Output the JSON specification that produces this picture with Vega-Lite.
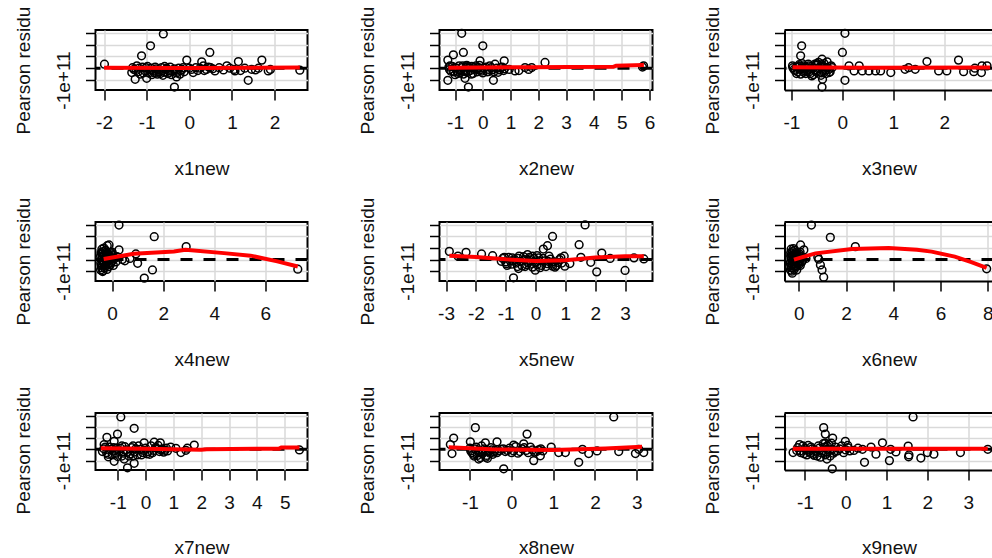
{
  "$schema": "https://vega.github.io/schema/vega-lite/v6.json",
  "background": "white",
  "padding": {"left": 12.5, "top": 5, "right": 0, "bottom": 0},
  "datasets": {
    "pts": [
      {"p":1,"x":-1.99,"y":0.34e11},{"p":1,"x":-0.61,"y":2.91e11},{"p":1,"x":-0.91,"y":1.91e11},{"p":1,"x":-1.12,"y":1.06e11},{"p":1,"x":0.48,"y":1.34e11},{"p":1,"x":-1.27,"y":-0.94e11},{"p":1,"x":-1.0,"y":-0.86e11},{"p":1,"x":-0.35,"y":-1.6e11},{"p":1,"x":-0.3,"y":-0.74e11},{"p":1,"x":-1.35,"y":-0.37e11},{"p":1,"x":-1.23,"y":0.2e11},{"p":1,"x":-0.06,"y":0.69e11},{"p":1,"x":0.29,"y":0.54e11},{"p":1,"x":0.33,"y":0.2e11},{"p":1,"x":0.09,"y":-0.37e11},{"p":1,"x":0.88,"y":0.2e11},{"p":1,"x":1.15,"y":0.57e11},{"p":1,"x":1.38,"y":-1.03e11},{"p":1,"x":1.7,"y":0.69e11},{"p":1,"x":1.46,"y":-0.09e11},{"p":1,"x":1.85,"y":-0.23e11},{"p":1,"x":2.59,"y":-0.17e11},{"p":1,"x":1.07,"y":-0.23e11},{"p":1,"x":0.6,"y":-0.23e11},
      {"p":1,"x":-1.3,"y":-0.1e11},{"p":1,"x":-1.2,"y":-0.3e11},{"p":1,"x":-1.1,"y":0.1e11},{"p":1,"x":-1.05,"y":-0.2e11},{"p":1,"x":-0.95,"y":-0.4e11},{"p":1,"x":-0.9,"y":0.0},{"p":1,"x":-0.85,"y":-0.25e11},{"p":1,"x":-0.8,"y":0.1e11},{"p":1,"x":-0.75,"y":-0.5e11},{"p":1,"x":-0.7,"y":-0.15e11},{"p":1,"x":-0.65,"y":0.05e11},{"p":1,"x":-0.6,"y":-0.35e11},{"p":1,"x":-0.55,"y":-0.1e11},{"p":1,"x":-0.5,"y":-0.45e11},{"p":1,"x":-0.45,"y":0.1e11},{"p":1,"x":-0.4,"y":-0.25e11},{"p":1,"x":-0.35,"y":-0.05e11},{"p":1,"x":-0.3,"y":-0.4e11},{"p":1,"x":-0.25,"y":0.0},{"p":1,"x":-0.2,"y":-0.2e11},{"p":1,"x":-0.15,"y":0.05e11},{"p":1,"x":-1.15,"y":-0.5e11},{"p":1,"x":-0.98,"y":0.15e11},{"p":1,"x":-0.72,"y":-0.3e11},{"p":1,"x":-0.58,"y":0.15e11},{"p":1,"x":-0.48,"y":-0.2e11},{"p":1,"x":-0.12,"y":-0.3e11},{"p":1,"x":-0.88,"y":-0.55e11},{"p":1,"x":-0.62,"y":-0.6e11},{"p":1,"x":-0.42,"y":-0.55e11},
      {"p":1,"x":-1.33,"y":0.05e11},{"p":1,"x":-1.25,"y":-0.2e11},{"p":1,"x":-1.18,"y":0.0},{"p":1,"x":-1.08,"y":-0.4e11},{"p":1,"x":-1.02,"y":0.05e11},{"p":1,"x":-0.93,"y":-0.15e11},{"p":1,"x":-0.82,"y":-0.4e11},{"p":1,"x":-0.78,"y":-0.05e11},{"p":1,"x":-0.68,"y":-0.45e11},{"p":1,"x":-0.63,"y":-0.2e11},{"p":1,"x":-0.53,"y":0.0},{"p":1,"x":-0.46,"y":-0.35e11},{"p":1,"x":-0.38,"y":-0.15e11},{"p":1,"x":-0.28,"y":-0.25e11},{"p":1,"x":-0.22,"y":-0.5e11},{"p":1,"x":-0.17,"y":-0.1e11},{"p":1,"x":0.0,"y":0.0},{"p":1,"x":0.25,"y":0.0},{"p":1,"x":0.35,"y":-0.2e11},{"p":1,"x":0.5,"y":0.05e11},
      {"p":1,"x":0.05,"y":-0.1e11},{"p":1,"x":0.15,"y":0.05e11},{"p":1,"x":0.2,"y":-0.2e11},{"p":1,"x":0.4,"y":-0.1e11},{"p":1,"x":0.45,"y":0.1e11},{"p":1,"x":0.55,"y":-0.05e11},{"p":1,"x":0.7,"y":0.05e11},{"p":1,"x":0.8,"y":-0.15e11},{"p":1,"x":0.95,"y":0.0},{"p":1,"x":1.05,"y":-0.1e11},{"p":1,"x":1.2,"y":-0.2e11},{"p":1,"x":1.3,"y":0.0},{"p":1,"x":1.55,"y":-0.15e11},{"p":1,"x":1.62,"y":0.0},{"p":1,"x":1.9,"y":-0.1e11},

      {"p":2,"x":-0.76,"y":2.97e11},{"p":2,"x":0.0,"y":1.91e11},{"p":2,"x":-0.7,"y":1.34e11},{"p":2,"x":-1.06,"y":1.14e11},{"p":2,"x":-1.26,"y":0.69e11},{"p":2,"x":-1.26,"y":-1.03e11},{"p":2,"x":-0.64,"y":-0.86e11},{"p":2,"x":-0.52,"y":-1.6e11},{"p":2,"x":0.38,"y":-1.03e11},{"p":2,"x":2.24,"y":0.49e11},{"p":2,"x":-0.1,"y":0.63e11},{"p":2,"x":0.77,"y":0.63e11},{"p":2,"x":1.16,"y":-0.23e11},{"p":2,"x":1.52,"y":0.06e11},{"p":2,"x":1.76,"y":0.06e11},{"p":2,"x":5.79,"y":0.2e11},{"p":2,"x":5.75,"y":0.1e11},{"p":2,"x":-1.18,"y":0.2e11},{"p":2,"x":0.44,"y":0.34e11},{"p":2,"x":0.2,"y":-0.29e11},{"p":2,"x":1.3,"y":-0.2e11},{"p":2,"x":0.95,"y":-0.1e11},{"p":2,"x":1.65,"y":-0.1e11},
      {"p":2,"x":-1.2,"y":-0.1e11},{"p":2,"x":-1.1,"y":0.15e11},{"p":2,"x":-1.05,"y":-0.3e11},{"p":2,"x":-0.95,"y":0.0},{"p":2,"x":-0.9,"y":-0.45e11},{"p":2,"x":-0.85,"y":0.2e11},{"p":2,"x":-0.8,"y":-0.2e11},{"p":2,"x":-0.75,"y":0.05e11},{"p":2,"x":-0.7,"y":-0.5e11},{"p":2,"x":-0.65,"y":-0.1e11},{"p":2,"x":-0.6,"y":0.1e11},{"p":2,"x":-0.55,"y":-0.35e11},{"p":2,"x":-0.5,"y":0.0},{"p":2,"x":-0.45,"y":-0.2e11},{"p":2,"x":-0.4,"y":0.15e11},{"p":2,"x":-0.35,"y":-0.45e11},{"p":2,"x":-0.3,"y":-0.05e11},{"p":2,"x":-0.25,"y":0.2e11},{"p":2,"x":-0.2,"y":-0.3e11},{"p":2,"x":-0.15,"y":0.05e11},{"p":2,"x":-0.1,"y":-0.15e11},{"p":2,"x":0.0,"y":-0.4e11},{"p":2,"x":0.1,"y":0.1e11},{"p":2,"x":0.2,"y":-0.1e11},{"p":2,"x":0.3,"y":0.05e11},{"p":2,"x":0.4,"y":-0.3e11},{"p":2,"x":0.5,"y":0.0},{"p":2,"x":0.6,"y":-0.15e11},{"p":2,"x":0.7,"y":0.1e11},{"p":2,"x":0.78,"y":-0.05e11},{"p":2,"x":-1.0,"y":-0.55e11},{"p":2,"x":-0.58,"y":0.25e11},
      {"p":2,"x":-1.22,"y":0.1e11},{"p":2,"x":-1.15,"y":-0.25e11},{"p":2,"x":-1.0,"y":0.05e11},{"p":2,"x":-0.92,"y":-0.25e11},{"p":2,"x":-0.82,"y":-0.4e11},{"p":2,"x":-0.72,"y":0.2e11},{"p":2,"x":-0.62,"y":-0.3e11},{"p":2,"x":-0.52,"y":0.15e11},{"p":2,"x":-0.42,"y":-0.5e11},{"p":2,"x":-0.32,"y":0.05e11},{"p":2,"x":-0.22,"y":-0.1e11},{"p":2,"x":-0.12,"y":0.25e11},{"p":2,"x":-0.05,"y":-0.25e11},{"p":2,"x":0.05,"y":0.0},{"p":2,"x":0.15,"y":-0.3e11},{"p":2,"x":0.25,"y":0.2e11},{"p":2,"x":0.35,"y":-0.15e11},{"p":2,"x":0.55,"y":-0.35e11},{"p":2,"x":0.65,"y":0.05e11},{"p":2,"x":0.75,"y":-0.2e11},

      {"p":3,"x":0.05,"y":2.97e11},{"p":3,"x":0.0,"y":1.34e11},{"p":3,"x":-0.8,"y":1.91e11},{"p":3,"x":-0.82,"y":1.06e11},{"p":3,"x":-0.4,"y":0.77e11},{"p":3,"x":-0.39,"y":-0.94e11},{"p":3,"x":-0.4,"y":-1.6e11},{"p":3,"x":0.05,"y":-1.03e11},{"p":3,"x":0.95,"y":-0.37e11},{"p":3,"x":1.66,"y":0.57e11},{"p":3,"x":2.28,"y":0.69e11},{"p":3,"x":1.23,"y":-0.09e11},{"p":3,"x":1.43,"y":-0.09e11},{"p":3,"x":1.89,"y":-0.23e11},{"p":3,"x":2.05,"y":-0.23e11},{"p":3,"x":2.38,"y":-0.29e11},{"p":3,"x":2.58,"y":-0.29e11},{"p":3,"x":2.74,"y":0.2e11},{"p":3,"x":2.84,"y":0.2e11},{"p":3,"x":2.73,"y":-0.37e11},{"p":3,"x":0.13,"y":0.2e11},{"p":3,"x":0.33,"y":0.2e11},{"p":3,"x":0.39,"y":-0.23e11},{"p":3,"x":0.52,"y":-0.23e11},{"p":3,"x":0.65,"y":-0.23e11},{"p":3,"x":0.75,"y":-0.23e11},{"p":3,"x":0.23,"y":-0.23e11},{"p":3,"x":-0.98,"y":0.2e11},{"p":3,"x":-0.26,"y":-0.37e11},{"p":3,"x":-0.2,"y":0.06e11},{"p":3,"x":1.3,"y":0.05e11},{"p":3,"x":2.6,"y":0.0},
      {"p":3,"x":-0.95,"y":-0.1e11},{"p":3,"x":-0.9,"y":0.1e11},{"p":3,"x":-0.88,"y":-0.3e11},{"p":3,"x":-0.85,"y":0.3e11},{"p":3,"x":-0.82,"y":-0.5e11},{"p":3,"x":-0.8,"y":0.0},{"p":3,"x":-0.77,"y":0.2e11},{"p":3,"x":-0.75,"y":-0.2e11},{"p":3,"x":-0.72,"y":-0.45e11},{"p":3,"x":-0.7,"y":0.05e11},{"p":3,"x":-0.67,"y":0.35e11},{"p":3,"x":-0.65,"y":-0.3e11},{"p":3,"x":-0.62,"y":-0.05e11},{"p":3,"x":-0.6,"y":0.15e11},{"p":3,"x":-0.57,"y":-0.55e11},{"p":3,"x":-0.55,"y":-0.15e11},{"p":3,"x":-0.52,"y":0.25e11},{"p":3,"x":-0.5,"y":-0.35e11},{"p":3,"x":-0.47,"y":0.5e11},{"p":3,"x":-0.45,"y":0.0},{"p":3,"x":-0.42,"y":-0.6e11},{"p":3,"x":-0.4,"y":0.3e11},{"p":3,"x":-0.38,"y":-0.2e11},{"p":3,"x":-0.35,"y":0.1e11},{"p":3,"x":-0.32,"y":-0.45e11},{"p":3,"x":-0.3,"y":0.55e11},{"p":3,"x":-0.27,"y":-0.1e11},{"p":3,"x":-0.22,"y":0.2e11},{"p":3,"x":-0.6,"y":-0.65e11},{"p":3,"x":-0.5,"y":0.4e11},
      {"p":3,"x":-0.97,"y":0.05e11},{"p":3,"x":-0.93,"y":-0.2e11},{"p":3,"x":-0.9,"y":-0.45e11},{"p":3,"x":-0.86,"y":0.15e11},{"p":3,"x":-0.83,"y":-0.1e11},{"p":3,"x":-0.79,"y":0.4e11},{"p":3,"x":-0.76,"y":-0.35e11},{"p":3,"x":-0.73,"y":0.1e11},{"p":3,"x":-0.69,"y":-0.25e11},{"p":3,"x":-0.66,"y":0.2e11},{"p":3,"x":-0.63,"y":-0.45e11},{"p":3,"x":-0.58,"y":0.0},{"p":3,"x":-0.54,"y":0.35e11},{"p":3,"x":-0.49,"y":-0.2e11},{"p":3,"x":-0.44,"y":0.15e11},{"p":3,"x":-0.41,"y":-0.4e11},{"p":3,"x":-0.36,"y":0.4e11},{"p":3,"x":-0.33,"y":-0.15e11},{"p":3,"x":-0.29,"y":0.05e11},{"p":3,"x":-0.24,"y":-0.3e11},

      {"p":4,"x":0.27,"y":2.99e11},{"p":4,"x":1.65,"y":1.98e11},{"p":4,"x":-0.12,"y":1.27e11},{"p":4,"x":0.27,"y":0.84e11},{"p":4,"x":0.93,"y":0.49e11},{"p":4,"x":1.0,"y":-0.32e11},{"p":4,"x":1.58,"y":-0.89e11},{"p":4,"x":1.26,"y":-1.6e11},{"p":4,"x":2.9,"y":1.12e11},{"p":4,"x":7.27,"y":-0.83e11},{"p":4,"x":-0.37,"y":-1.03e11},{"p":4,"x":0.4,"y":0.0},{"p":4,"x":0.5,"y":-0.1e11},{"p":4,"x":0.7,"y":0.1e11},{"p":4,"x":-0.05,"y":0.6e11},
      {"p":4,"x":-0.45,"y":-0.9e11},{"p":4,"x":-0.42,"y":-0.5e11},{"p":4,"x":-0.4,"y":0.0},{"p":4,"x":-0.38,"y":0.5e11},{"p":4,"x":-0.35,"y":-0.2e11},{"p":4,"x":-0.33,"y":0.3e11},{"p":4,"x":-0.3,"y":-0.7e11},{"p":4,"x":-0.28,"y":0.1e11},{"p":4,"x":-0.25,"y":0.8e11},{"p":4,"x":-0.23,"y":-0.4e11},{"p":4,"x":-0.2,"y":0.2e11},{"p":4,"x":-0.18,"y":-0.1e11},{"p":4,"x":-0.15,"y":0.45e11},{"p":4,"x":-0.13,"y":-0.6e11},{"p":4,"x":-0.1,"y":0.0},{"p":4,"x":-0.08,"y":0.3e11},{"p":4,"x":-0.05,"y":-0.3e11},{"p":4,"x":-0.03,"y":0.15e11},{"p":4,"x":0.0,"y":-0.15e11},{"p":4,"x":0.03,"y":0.35e11},{"p":4,"x":0.05,"y":-0.5e11},{"p":4,"x":-0.4,"y":0.9e11},{"p":4,"x":-0.35,"y":-0.95e11},{"p":4,"x":-0.2,"y":-0.85e11},{"p":4,"x":0.0,"y":0.65e11},{"p":4,"x":-0.45,"y":0.3e11},{"p":4,"x":0.1,"y":0.1e11},{"p":4,"x":0.15,"y":-0.2e11},{"p":4,"x":0.2,"y":0.25e11},
      {"p":4,"x":-0.44,"y":-0.3e11},{"p":4,"x":-0.43,"y":0.6e11},{"p":4,"x":-0.41,"y":-0.7e11},{"p":4,"x":-0.39,"y":0.2e11},{"p":4,"x":-0.37,"y":-0.45e11},{"p":4,"x":-0.36,"y":0.7e11},{"p":4,"x":-0.34,"y":-0.1e11},{"p":4,"x":-0.32,"y":1.0e11},{"p":4,"x":-0.31,"y":-0.35e11},{"p":4,"x":-0.29,"y":0.4e11},{"p":4,"x":-0.27,"y":-0.55e11},{"p":4,"x":-0.26,"y":0.05e11},{"p":4,"x":-0.24,"y":0.6e11},{"p":4,"x":-0.22,"y":-0.2e11},{"p":4,"x":-0.19,"y":1.2e11},{"p":4,"x":-0.17,"y":0.35e11},{"p":4,"x":-0.14,"y":-0.35e11},{"p":4,"x":-0.11,"y":0.2e11},{"p":4,"x":-0.07,"y":-0.45e11},{"p":4,"x":-0.02,"y":0.5e11},

      {"p":5,"x":1.66,"y":3.0e11},{"p":5,"x":0.57,"y":2.0e11},{"p":5,"x":1.46,"y":1.29e11},{"p":5,"x":0.4,"y":1.2e11},{"p":5,"x":0.26,"y":0.91e11},{"p":5,"x":-2.89,"y":0.71e11},{"p":5,"x":-2.33,"y":0.63e11},{"p":5,"x":-1.81,"y":0.49e11},{"p":5,"x":-1.44,"y":0.34e11},{"p":5,"x":-0.74,"y":-1.57e11},{"p":5,"x":-0.57,"y":-0.77e11},{"p":5,"x":-0.01,"y":-0.91e11},{"p":5,"x":0.96,"y":0.29e11},{"p":5,"x":0.98,"y":-0.57e11},{"p":5,"x":1.15,"y":-0.34e11},{"p":5,"x":1.52,"y":0.2e11},{"p":5,"x":1.85,"y":-0.23e11},{"p":5,"x":2.05,"y":-1.06e11},{"p":5,"x":2.22,"y":0.57e11},{"p":5,"x":3.0,"y":-0.94e11},{"p":5,"x":3.63,"y":0.06e11},{"p":5,"x":0.57,"y":-0.57e11},{"p":5,"x":-0.27,"y":0.43e11},{"p":5,"x":-0.1,"y":0.29e11},{"p":5,"x":-2.6,"y":0.3e11},{"p":5,"x":2.5,"y":0.1e11},{"p":5,"x":3.3,"y":0.15e11},
      {"p":5,"x":-1.1,"y":0.1e11},{"p":5,"x":-1.0,"y":-0.2e11},{"p":5,"x":-0.9,"y":0.2e11},{"p":5,"x":-0.8,"y":-0.4e11},{"p":5,"x":-0.7,"y":0.0},{"p":5,"x":-0.6,"y":-0.6e11},{"p":5,"x":-0.5,"y":-0.15e11},{"p":5,"x":-0.4,"y":0.25e11},{"p":5,"x":-0.3,"y":-0.45e11},{"p":5,"x":-0.2,"y":-0.05e11},{"p":5,"x":-0.1,"y":-0.65e11},{"p":5,"x":0.0,"y":-0.25e11},{"p":5,"x":0.1,"y":0.15e11},{"p":5,"x":0.2,"y":-0.5e11},{"p":5,"x":0.3,"y":-0.1e11},{"p":5,"x":0.4,"y":-0.35e11},{"p":5,"x":0.5,"y":0.05e11},{"p":5,"x":0.6,"y":-0.2e11},{"p":5,"x":0.7,"y":-0.5e11},{"p":5,"x":0.8,"y":0.0},{"p":5,"x":0.88,"y":-0.3e11},{"p":5,"x":-0.95,"y":-0.5e11},{"p":5,"x":-0.55,"y":0.3e11},{"p":5,"x":-0.25,"y":-0.3e11},{"p":5,"x":0.15,"y":-0.7e11},{"p":5,"x":0.45,"y":0.3e11},{"p":5,"x":-0.75,"y":-0.1e11},{"p":5,"x":0.05,"y":0.35e11},{"p":5,"x":0.65,"y":-0.65e11},{"p":5,"x":-0.35,"y":-0.6e11},
      {"p":5,"x":-1.15,"y":-0.15e11},{"p":5,"x":-1.05,"y":0.2e11},{"p":5,"x":-0.98,"y":-0.35e11},{"p":5,"x":-0.85,"y":-0.1e11},{"p":5,"x":-0.78,"y":0.15e11},{"p":5,"x":-0.65,"y":-0.3e11},{"p":5,"x":-0.58,"y":0.1e11},{"p":5,"x":-0.45,"y":-0.55e11},{"p":5,"x":-0.38,"y":0.0},{"p":5,"x":-0.15,"y":-0.4e11},{"p":5,"x":-0.05,"y":0.1e11},{"p":5,"x":0.05,"y":-0.45e11},{"p":5,"x":0.25,"y":0.1e11},{"p":5,"x":0.35,"y":-0.6e11},{"p":5,"x":0.55,"y":-0.4e11},{"p":5,"x":0.75,"y":-0.25e11},{"p":5,"x":0.85,"y":0.15e11},{"p":5,"x":-0.2,"y":0.2e11},{"p":5,"x":0.12,"y":-0.1e11},{"p":5,"x":0.42,"y":-0.15e11},

      {"p":6,"x":0.53,"y":2.99e11},{"p":6,"x":1.33,"y":1.92e11},{"p":6,"x":0.07,"y":1.27e11},{"p":6,"x":0.21,"y":0.84e11},{"p":6,"x":2.39,"y":1.12e11},{"p":6,"x":0.84,"y":0.03e11},{"p":6,"x":0.91,"y":-0.46e11},{"p":6,"x":0.98,"y":-0.89e11},{"p":6,"x":1.05,"y":-1.52e11},{"p":6,"x":7.95,"y":-0.8e11},{"p":6,"x":-0.28,"y":-1.18e11},{"p":6,"x":0.3,"y":0.1e11},{"p":6,"x":0.15,"y":-0.1e11},{"p":6,"x":0.8,"y":0.2e11},
      {"p":6,"x":-0.36,"y":-0.9e11},{"p":6,"x":-0.34,"y":-0.5e11},{"p":6,"x":-0.32,"y":0.0},{"p":6,"x":-0.3,"y":0.5e11},{"p":6,"x":-0.28,"y":-0.2e11},{"p":6,"x":-0.26,"y":0.3e11},{"p":6,"x":-0.24,"y":-0.7e11},{"p":6,"x":-0.22,"y":0.1e11},{"p":6,"x":-0.2,"y":0.8e11},{"p":6,"x":-0.18,"y":-0.4e11},{"p":6,"x":-0.16,"y":0.2e11},{"p":6,"x":-0.14,"y":-0.1e11},{"p":6,"x":-0.12,"y":0.45e11},{"p":6,"x":-0.1,"y":-0.6e11},{"p":6,"x":-0.08,"y":0.0},{"p":6,"x":-0.06,"y":0.3e11},{"p":6,"x":-0.04,"y":-0.3e11},{"p":6,"x":-0.02,"y":0.15e11},{"p":6,"x":0.0,"y":-0.15e11},{"p":6,"x":0.03,"y":0.35e11},{"p":6,"x":0.06,"y":-0.5e11},{"p":6,"x":-0.33,"y":0.9e11},{"p":6,"x":-0.3,"y":-1.0e11},{"p":6,"x":-0.2,"y":-0.85e11},{"p":6,"x":0.05,"y":0.65e11},{"p":6,"x":-0.35,"y":0.3e11},{"p":6,"x":0.1,"y":0.1e11},{"p":6,"x":0.12,"y":-0.2e11},
      {"p":6,"x":-0.37,"y":-0.3e11},{"p":6,"x":-0.35,"y":0.6e11},{"p":6,"x":-0.33,"y":-0.7e11},{"p":6,"x":-0.31,"y":0.2e11},{"p":6,"x":-0.29,"y":-0.45e11},{"p":6,"x":-0.27,"y":0.7e11},{"p":6,"x":-0.25,"y":-0.1e11},{"p":6,"x":-0.23,"y":0.95e11},{"p":6,"x":-0.21,"y":-0.35e11},{"p":6,"x":-0.19,"y":0.4e11},{"p":6,"x":-0.17,"y":-0.55e11},{"p":6,"x":-0.15,"y":0.05e11},{"p":6,"x":-0.13,"y":0.6e11},{"p":6,"x":-0.11,"y":-0.2e11},{"p":6,"x":-0.09,"y":-0.9e11},{"p":6,"x":-0.07,"y":0.35e11},{"p":6,"x":-0.05,"y":-0.35e11},{"p":6,"x":-0.03,"y":0.2e11},{"p":6,"x":0.0,"y":-0.45e11},{"p":6,"x":0.02,"y":0.5e11},

      {"p":7,"x":-0.89,"y":2.9e11},{"p":7,"x":-0.41,"y":1.88e11},{"p":7,"x":-1.39,"y":1.07e11},{"p":7,"x":-1.01,"y":1.36e11},{"p":7,"x":-1.13,"y":0.72e11},{"p":7,"x":-1.49,"y":0.43e11},{"p":7,"x":-1.34,"y":-0.67e11},{"p":7,"x":-1.13,"y":-1.07e11},{"p":7,"x":-0.65,"y":-1.65e11},{"p":7,"x":-0.77,"y":-0.87e11},{"p":7,"x":-0.41,"y":-1.25e11},{"p":7,"x":-0.05,"y":0.58e11},{"p":7,"x":0.31,"y":0.64e11},{"p":7,"x":0.53,"y":0.58e11},{"p":7,"x":1.75,"y":0.38e11},{"p":7,"x":1.27,"y":-0.29e11},{"p":7,"x":0.79,"y":-0.14e11},{"p":7,"x":5.53,"y":-0.06e11},{"p":7,"x":1.45,"y":-0.09e11},{"p":7,"x":1.09,"y":0.09e11},{"p":7,"x":1.5,"y":0.1e11},{"p":7,"x":0.9,"y":0.2e11},
      {"p":7,"x":-1.5,"y":0.05e11},{"p":7,"x":-1.4,"y":-0.3e11},{"p":7,"x":-1.3,"y":0.2e11},{"p":7,"x":-1.2,"y":-0.5e11},{"p":7,"x":-1.1,"y":-0.1e11},{"p":7,"x":-1.0,"y":-0.65e11},{"p":7,"x":-0.9,"y":0.1e11},{"p":7,"x":-0.8,"y":-0.35e11},{"p":7,"x":-0.7,"y":-0.05e11},{"p":7,"x":-0.6,"y":-0.6e11},{"p":7,"x":-0.5,"y":0.15e11},{"p":7,"x":-0.4,"y":-0.25e11},{"p":7,"x":-0.3,"y":-0.5e11},{"p":7,"x":-0.2,"y":0.0},{"p":7,"x":-0.1,"y":-0.3e11},{"p":7,"x":0.0,"y":0.1e11},{"p":7,"x":0.1,"y":-0.2e11},{"p":7,"x":0.2,"y":0.3e11},{"p":7,"x":0.3,"y":-0.1e11},{"p":7,"x":0.4,"y":0.1e11},{"p":7,"x":0.5,"y":-0.2e11},{"p":7,"x":0.6,"y":0.05e11},{"p":7,"x":0.7,"y":-0.1e11},{"p":7,"x":-0.95,"y":-0.2e11},{"p":7,"x":-0.55,"y":-0.4e11},{"p":7,"x":-0.25,"y":0.3e11},{"p":7,"x":0.15,"y":-0.45e11},{"p":7,"x":-1.25,"y":0.0},{"p":7,"x":-0.75,"y":0.25e11},{"p":7,"x":0.45,"y":0.35e11},
      {"p":7,"x":-1.55,"y":-0.2e11},{"p":7,"x":-1.45,"y":0.2e11},{"p":7,"x":-1.35,"y":-0.45e11},{"p":7,"x":-1.15,"y":0.15e11},{"p":7,"x":-1.05,"y":-0.35e11},{"p":7,"x":-0.85,"y":-0.6e11},{"p":7,"x":-0.65,"y":-0.25e11},{"p":7,"x":-0.45,"y":-0.6e11},{"p":7,"x":-0.35,"y":0.05e11},{"p":7,"x":-0.15,"y":-0.5e11},{"p":7,"x":-0.05,"y":-0.1e11},{"p":7,"x":0.05,"y":-0.4e11},{"p":7,"x":0.25,"y":-0.3e11},{"p":7,"x":0.35,"y":0.15e11},{"p":7,"x":0.55,"y":-0.05e11},{"p":7,"x":0.65,"y":-0.25e11},{"p":7,"x":0.75,"y":0.1e11},{"p":7,"x":-0.85,"y":0.3e11},{"p":7,"x":-0.45,"y":0.3e11},{"p":7,"x":-1.05,"y":0.1e11},

      {"p":8,"x":2.45,"y":2.9e11},{"p":8,"x":-0.87,"y":1.94e11},{"p":8,"x":-1.39,"y":1.01e11},{"p":8,"x":-1.47,"y":0.43e11},{"p":8,"x":-1.43,"y":-0.38e11},{"p":8,"x":-0.99,"y":0.67e11},{"p":8,"x":-0.63,"y":0.58e11},{"p":8,"x":-0.35,"y":0.67e11},{"p":8,"x":-0.19,"y":-1.74e11},{"p":8,"x":0.37,"y":1.36e11},{"p":8,"x":0.05,"y":0.38e11},{"p":8,"x":0.29,"y":0.49e11},{"p":8,"x":0.53,"y":-1.01e11},{"p":8,"x":0.69,"y":-0.58e11},{"p":8,"x":0.95,"y":0.2e11},{"p":8,"x":1.13,"y":-0.29e11},{"p":8,"x":1.29,"y":-0.29e11},{"p":8,"x":1.61,"y":-1.16e11},{"p":8,"x":1.85,"y":-0.38e11},{"p":8,"x":2.05,"y":-0.14e11},{"p":8,"x":2.57,"y":-0.2e11},{"p":8,"x":2.97,"y":-0.38e11},{"p":8,"x":3.17,"y":-0.29e11},{"p":8,"x":-0.79,"y":-0.87e11},{"p":8,"x":3.05,"y":0.0},{"p":8,"x":1.7,"y":0.0},
      {"p":8,"x":-1.0,"y":0.1e11},{"p":8,"x":-0.95,"y":-0.3e11},{"p":8,"x":-0.9,"y":-0.6e11},{"p":8,"x":-0.85,"y":0.2e11},{"p":8,"x":-0.8,"y":-0.1e11},{"p":8,"x":-0.75,"y":-0.75e11},{"p":8,"x":-0.7,"y":-0.4e11},{"p":8,"x":-0.65,"y":0.05e11},{"p":8,"x":-0.6,"y":-0.55e11},{"p":8,"x":-0.55,"y":-0.2e11},{"p":8,"x":-0.5,"y":0.15e11},{"p":8,"x":-0.45,"y":-0.45e11},{"p":8,"x":-0.4,"y":-0.1e11},{"p":8,"x":-0.35,"y":-0.3e11},{"p":8,"x":-0.25,"y":0.0},{"p":8,"x":-0.15,"y":-0.2e11},{"p":8,"x":-0.05,"y":0.1e11},{"p":8,"x":0.05,"y":-0.15e11},{"p":8,"x":0.15,"y":-0.35e11},{"p":8,"x":0.25,"y":0.05e11},{"p":8,"x":0.35,"y":-0.1e11},{"p":8,"x":0.45,"y":0.2e11},{"p":8,"x":0.55,"y":-0.25e11},{"p":8,"x":0.65,"y":-0.05e11},{"p":8,"x":0.75,"y":-0.15e11},{"p":8,"x":-0.72,"y":0.3e11},{"p":8,"x":-0.58,"y":-0.8e11},{"p":8,"x":0.1,"y":0.25e11},
      {"p":8,"x":-0.98,"y":-0.15e11},{"p":8,"x":-0.92,"y":-0.45e11},{"p":8,"x":-0.88,"y":0.05e11},{"p":8,"x":-0.82,"y":-0.55e11},{"p":8,"x":-0.78,"y":-0.3e11},{"p":8,"x":-0.68,"y":-0.15e11},{"p":8,"x":-0.62,"y":-0.7e11},{"p":8,"x":-0.52,"y":-0.35e11},{"p":8,"x":-0.48,"y":-0.05e11},{"p":8,"x":-0.42,"y":-0.25e11},{"p":8,"x":-0.3,"y":-0.15e11},{"p":8,"x":-0.2,"y":0.05e11},{"p":8,"x":-0.1,"y":-0.1e11},{"p":8,"x":0.0,"y":-0.3e11},{"p":8,"x":0.2,"y":-0.2e11},{"p":8,"x":0.3,"y":0.15e11},{"p":8,"x":0.4,"y":-0.3e11},{"p":8,"x":0.5,"y":-0.05e11},{"p":8,"x":0.6,"y":-0.2e11},{"p":8,"x":0.7,"y":0.05e11},

      {"p":9,"x":1.65,"y":2.9e11},{"p":9,"x":-0.54,"y":1.94e11},{"p":9,"x":-0.5,"y":1.36e11},{"p":9,"x":-0.32,"y":1.01e11},{"p":9,"x":-0.01,"y":0.72e11},{"p":9,"x":-1.29,"y":-0.29e11},{"p":9,"x":-1.13,"y":0.43e11},{"p":9,"x":-0.46,"y":-0.87e11},{"p":9,"x":-0.33,"y":-1.74e11},{"p":9,"x":0.46,"y":-1.16e11},{"p":9,"x":1.07,"y":-1.01e11},{"p":9,"x":0.9,"y":0.58e11},{"p":9,"x":0.74,"y":-0.43e11},{"p":9,"x":1.23,"y":-0.23e11},{"p":9,"x":1.53,"y":0.29e11},{"p":9,"x":1.54,"y":-0.67e11},{"p":9,"x":1.84,"y":-0.78e11},{"p":9,"x":2.0,"y":-0.29e11},{"p":9,"x":2.16,"y":-0.43e11},{"p":9,"x":2.81,"y":-0.29e11},{"p":9,"x":3.48,"y":0.0},{"p":9,"x":0.41,"y":0.0},{"p":9,"x":0.62,"y":0.2e11},{"p":9,"x":1.55,"y":-0.5e11},{"p":9,"x":1.1,"y":0.0},
      {"p":9,"x":-1.2,"y":-0.1e11},{"p":9,"x":-1.1,"y":-0.3e11},{"p":9,"x":-1.0,"y":0.1e11},{"p":9,"x":-0.95,"y":-0.5e11},{"p":9,"x":-0.9,"y":-0.2e11},{"p":9,"x":-0.85,"y":0.2e11},{"p":9,"x":-0.8,"y":-0.45e11},{"p":9,"x":-0.75,"y":-0.1e11},{"p":9,"x":-0.7,"y":-0.6e11},{"p":9,"x":-0.65,"y":0.1e11},{"p":9,"x":-0.6,"y":-0.3e11},{"p":9,"x":-0.55,"y":0.5e11},{"p":9,"x":-0.5,"y":-0.5e11},{"p":9,"x":-0.45,"y":0.3e11},{"p":9,"x":-0.4,"y":-0.1e11},{"p":9,"x":-0.35,"y":0.55e11},{"p":9,"x":-0.3,"y":-0.35e11},{"p":9,"x":-0.25,"y":0.2e11},{"p":9,"x":-0.2,"y":-0.15e11},{"p":9,"x":-0.1,"y":0.3e11},{"p":9,"x":0.0,"y":-0.05e11},{"p":9,"x":0.05,"y":0.15e11},{"p":9,"x":-0.5,"y":0.55e11},{"p":9,"x":-0.45,"y":0.0},{"p":9,"x":-0.62,"y":-0.7e11},{"p":9,"x":-0.38,"y":-0.6e11},{"p":9,"x":-1.05,"y":0.3e11},{"p":9,"x":0.2,"y":-0.1e11},{"p":9,"x":0.3,"y":0.1e11},
      {"p":9,"x":-1.18,"y":0.15e11},{"p":9,"x":-1.12,"y":-0.15e11},{"p":9,"x":-1.02,"y":-0.4e11},{"p":9,"x":-0.97,"y":-0.05e11},{"p":9,"x":-0.92,"y":0.35e11},{"p":9,"x":-0.87,"y":-0.35e11},{"p":9,"x":-0.82,"y":0.05e11},{"p":9,"x":-0.77,"y":-0.55e11},{"p":9,"x":-0.72,"y":-0.25e11},{"p":9,"x":-0.67,"y":0.3e11},{"p":9,"x":-0.57,"y":-0.15e11},{"p":9,"x":-0.52,"y":0.2e11},{"p":9,"x":-0.47,"y":-0.35e11},{"p":9,"x":-0.42,"y":0.45e11},{"p":9,"x":-0.33,"y":0.0},{"p":9,"x":-0.27,"y":-0.2e11},{"p":9,"x":-0.15,"y":0.05e11},{"p":9,"x":-0.05,"y":-0.3e11},{"p":9,"x":0.05,"y":0.35e11},{"p":9,"x":0.1,"y":-0.15e11}
    ],
    "fit": [
      {"p":1,"x":-2.0,"y":0.05e11},{"p":1,"x":0.0,"y":0.03e11},{"p":1,"x":2.59,"y":0.06e11},
      {"p":2,"x":-1.24,"y":0.05e11},{"p":2,"x":1.5,"y":0.08e11},{"p":2,"x":4.7,"y":0.12e11},{"p":2,"x":4.8,"y":0.22e11},{"p":2,"x":5.8,"y":0.27e11},
      {"p":3,"x":-0.98,"y":0.08e11},{"p":3,"x":0.5,"y":0.05e11},{"p":3,"x":2.9,"y":0.06e11},
      {"p":4,"x":-0.33,"y":0.05e11},{"p":4,"x":0.85,"y":0.5e11},{"p":4,"x":2.42,"y":0.7e11},{"p":4,"x":2.87,"y":0.85e11},{"p":4,"x":4.38,"y":0.56e11},{"p":4,"x":5.42,"y":0.34e11},{"p":4,"x":6.47,"y":-0.15e11},{"p":4,"x":7.27,"y":-0.6e11},
      {"p":5,"x":-2.89,"y":0.34e11},{"p":5,"x":-2.0,"y":0.23e11},{"p":5,"x":-1.0,"y":0.02e11},{"p":5,"x":0.0,"y":-0.12e11},{"p":5,"x":1.0,"y":-0.05e11},{"p":5,"x":2.0,"y":0.18e11},{"p":5,"x":3.0,"y":0.28e11},{"p":5,"x":3.63,"y":0.29e11},
      {"p":6,"x":-0.21,"y":0.0},{"p":6,"x":0.7,"y":0.54e11},{"p":6,"x":2.25,"y":0.92e11},{"p":6,"x":3.8,"y":1.0e11},{"p":6,"x":5.0,"y":0.85e11},{"p":6,"x":5.62,"y":0.69e11},{"p":6,"x":6.6,"y":0.26e11},{"p":6,"x":7.3,"y":-0.22e11},{"p":6,"x":7.95,"y":-0.72e11},
      {"p":7,"x":-1.61,"y":0.09e11},{"p":7,"x":0.0,"y":0.06e11},{"p":7,"x":2.0,"y":-0.04e11},{"p":7,"x":2.2,"y":0.01e11},{"p":7,"x":4.8,"y":0.06e11},{"p":7,"x":4.88,"y":0.16e11},{"p":7,"x":5.53,"y":0.17e11},
      {"p":8,"x":-1.51,"y":0.18e11},{"p":8,"x":-0.5,"y":0.0},{"p":8,"x":1.0,"y":-0.06e11},{"p":8,"x":2.25,"y":0.08e11},{"p":8,"x":3.13,"y":0.24e11},
      {"p":9,"x":-1.3,"y":0.06e11},{"p":9,"x":1.0,"y":0.05e11},{"p":9,"x":3.48,"y":0.06e11}
    ]
  },
  "columns": 3,
  "spacing": {"row": 132, "column": 132},
  "bounds": "flush",
  "concat": [
    {
      "width": 212, "height": 60,
      "layer": [
        {"data": {"name": "pts"}, "transform": [{"filter": "datum.p == 1"}],
         "mark": {"type": "point", "shape": "circle", "filled": false, "color": "black", "size": 60, "strokeWidth": 1.5, "opacity": 1},
         "encoding": {
           "x": {"field": "x", "type": "quantitative", "scale": {"domain": [-2.2, 2.77], "nice": false, "zero": false}, "axis": {"values": [-2, -1, 0, 1, 2], "title": "x1new"}},
           "y": {"field": "y", "type": "quantitative", "scale": {"domain": [-1.85e11, 3.25e11], "nice": false, "zero": false}, "axis": {"values": [-1e11, 0, 1e11, 2e11, 3e11], "title": "Pearson residu", "titleY": 104}}}},
        {"data": {"values": [{}]}, "mark": {"type": "rule", "color": "black", "strokeWidth": 3, "strokeDash": [12, 11]}, "encoding": {"y": {"datum": 0}}},
        {"data": {"name": "fit"}, "transform": [{"filter": "datum.p == 1"}],
         "mark": {"type": "line", "color": "#ff0000", "strokeWidth": 4},
         "encoding": {"x": {"field": "x", "type": "quantitative", "title": "x1new"}, "y": {"field": "y", "type": "quantitative", "title": "Pearson residu"}}}
      ]
    },
    {
      "width": 213, "height": 60,
      "layer": [
        {"data": {"name": "pts"}, "transform": [{"filter": "datum.p == 2"}],
         "mark": {"type": "point", "shape": "circle", "filled": false, "color": "black", "size": 60, "strokeWidth": 1.5, "opacity": 1},
         "encoding": {
           "x": {"field": "x", "type": "quantitative", "scale": {"domain": [-1.56, 6.11], "nice": false, "zero": false}, "axis": {"values": [-1, 0, 1, 2, 3, 4, 5, 6], "title": "x2new"}},
           "y": {"field": "y", "type": "quantitative", "scale": {"domain": [-1.85e11, 3.25e11], "nice": false, "zero": false}, "axis": {"values": [-1e11, 0, 1e11, 2e11, 3e11], "title": "Pearson residu", "titleY": 104}}}},
        {"data": {"values": [{}]}, "mark": {"type": "rule", "color": "black", "strokeWidth": 3, "strokeDash": [12, 11]}, "encoding": {"y": {"datum": 0}}},
        {"data": {"name": "fit"}, "transform": [{"filter": "datum.p == 2"}],
         "mark": {"type": "line", "color": "#ff0000", "strokeWidth": 4},
         "encoding": {"x": {"field": "x", "type": "quantitative", "title": "x2new"}, "y": {"field": "y", "type": "quantitative", "title": "Pearson residu"}}}
      ]
    },
    {
      "width": 209, "height": 60,
      "view": {"stroke": null},
      "layer": [
        {"data": {"name": "pts"}, "transform": [{"filter": "datum.p == 3"}],
         "mark": {"type": "point", "shape": "circle", "filled": false, "color": "black", "size": 60, "strokeWidth": 1.5, "opacity": 1},
         "encoding": {
           "x": {"field": "x", "type": "quantitative", "scale": {"domain": [-1.137, 2.967], "nice": false, "zero": false}, "axis": {"values": [-1, 0, 1, 2], "title": "x3new", "domain": true}},
           "y": {"field": "y", "type": "quantitative", "scale": {"domain": [-1.85e11, 3.25e11], "nice": false, "zero": false}, "axis": {"values": [-1e11, 0, 1e11, 2e11, 3e11], "title": "Pearson residu", "titleY": 104, "domain": true}}}},
        {"data": {"values": [{}]}, "mark": {"type": "rule", "color": "black", "strokeWidth": 3, "strokeDash": [12, 11]}, "encoding": {"y": {"datum": 0}}},
        {"data": {"values": [{}]}, "mark": {"type": "rule", "color": "black", "strokeWidth": 2}, "encoding": {"y": {"datum": 3.25e11}}},
        {"data": {"name": "fit"}, "transform": [{"filter": "datum.p == 3"}],
         "mark": {"type": "line", "color": "#ff0000", "strokeWidth": 4},
         "encoding": {"x": {"field": "x", "type": "quantitative", "title": "x3new"}, "y": {"field": "y", "type": "quantitative", "title": "Pearson residu"}}}
      ]
    },
    {
      "width": 212, "height": 59,
      "layer": [
        {"data": {"name": "pts"}, "transform": [{"filter": "datum.p == 4"}],
         "mark": {"type": "point", "shape": "circle", "filled": false, "color": "black", "size": 60, "strokeWidth": 1.5, "opacity": 1},
         "encoding": {
           "x": {"field": "x", "type": "quantitative", "scale": {"domain": [-0.65, 7.65], "nice": false, "zero": false}, "axis": {"values": [0, 2, 4, 6], "title": "x4new"}},
           "y": {"field": "y", "type": "quantitative", "scale": {"domain": [-1.85e11, 3.25e11], "nice": false, "zero": false}, "axis": {"values": [-1e11, 0, 1e11, 2e11, 3e11], "title": "Pearson residu", "titleY": 103}}}},
        {"data": {"values": [{}]}, "mark": {"type": "rule", "color": "black", "strokeWidth": 3, "strokeDash": [12, 11]}, "encoding": {"y": {"datum": 0}}},
        {"data": {"name": "fit"}, "transform": [{"filter": "datum.p == 4"}],
         "mark": {"type": "line", "color": "#ff0000", "strokeWidth": 4},
         "encoding": {"x": {"field": "x", "type": "quantitative", "title": "x4new"}, "y": {"field": "y", "type": "quantitative", "title": "Pearson residu"}}}
      ]
    },
    {
      "width": 213, "height": 59,
      "layer": [
        {"data": {"name": "pts"}, "transform": [{"filter": "datum.p == 5"}],
         "mark": {"type": "point", "shape": "circle", "filled": false, "color": "black", "size": 60, "strokeWidth": 1.5, "opacity": 1},
         "encoding": {
           "x": {"field": "x", "type": "quantitative", "scale": {"domain": [-3.22, 3.92], "nice": false, "zero": false}, "axis": {"values": [-3, -2, -1, 0, 1, 2, 3], "title": "x5new"}},
           "y": {"field": "y", "type": "quantitative", "scale": {"domain": [-1.85e11, 3.25e11], "nice": false, "zero": false}, "axis": {"values": [-1e11, 0, 1e11, 2e11, 3e11], "title": "Pearson residu", "titleY": 103}}}},
        {"data": {"values": [{}]}, "mark": {"type": "rule", "color": "black", "strokeWidth": 3, "strokeDash": [12, 11]}, "encoding": {"y": {"datum": 0}}},
        {"data": {"name": "fit"}, "transform": [{"filter": "datum.p == 5"}],
         "mark": {"type": "line", "color": "#ff0000", "strokeWidth": 4},
         "encoding": {"x": {"field": "x", "type": "quantitative", "title": "x5new"}, "y": {"field": "y", "type": "quantitative", "title": "Pearson residu"}}}
      ]
    },
    {
      "width": 209, "height": 59,
      "view": {"stroke": null},
      "layer": [
        {"data": {"name": "pts"}, "transform": [{"filter": "datum.p == 6"}],
         "mark": {"type": "point", "shape": "circle", "filled": false, "color": "black", "size": 60, "strokeWidth": 1.5, "opacity": 1},
         "encoding": {
           "x": {"field": "x", "type": "quantitative", "scale": {"domain": [-0.61, 8.24], "nice": false, "zero": false}, "axis": {"values": [0, 2, 4, 6, 8], "title": "x6new", "domain": true}},
           "y": {"field": "y", "type": "quantitative", "scale": {"domain": [-1.85e11, 3.25e11], "nice": false, "zero": false}, "axis": {"values": [-1e11, 0, 1e11, 2e11, 3e11], "title": "Pearson residu", "titleY": 103, "domain": true}}}},
        {"data": {"values": [{}]}, "mark": {"type": "rule", "color": "black", "strokeWidth": 3, "strokeDash": [12, 11]}, "encoding": {"y": {"datum": 0}}},
        {"data": {"values": [{}]}, "mark": {"type": "rule", "color": "black", "strokeWidth": 2}, "encoding": {"y": {"datum": 3.25e11}}},
        {"data": {"name": "fit"}, "transform": [{"filter": "datum.p == 6"}],
         "mark": {"type": "line", "color": "#ff0000", "strokeWidth": 4},
         "encoding": {"x": {"field": "x", "type": "quantitative", "title": "x6new"}, "y": {"field": "y", "type": "quantitative", "title": "Pearson residu"}}}
      ]
    },
    {
      "width": 212, "height": 57,
      "layer": [
        {"data": {"name": "pts"}, "transform": [{"filter": "datum.p == 7"}],
         "mark": {"type": "point", "shape": "circle", "filled": false, "color": "black", "size": 60, "strokeWidth": 1.5, "opacity": 1},
         "encoding": {
           "x": {"field": "x", "type": "quantitative", "scale": {"domain": [-1.8, 5.82], "nice": false, "zero": false}, "axis": {"values": [-1, 0, 1, 2, 3, 4, 5], "title": "x7new", "titleY": 83}},
           "y": {"field": "y", "type": "quantitative", "scale": {"domain": [-1.85e11, 3.25e11], "nice": false, "zero": false}, "axis": {"values": [-1e11, 0, 1e11, 2e11, 3e11], "title": "Pearson residu", "titleY": 101}}}},
        {"data": {"values": [{}]}, "mark": {"type": "rule", "color": "black", "strokeWidth": 3, "strokeDash": [12, 11]}, "encoding": {"y": {"datum": 0}}},
        {"data": {"name": "fit"}, "transform": [{"filter": "datum.p == 7"}],
         "mark": {"type": "line", "color": "#ff0000", "strokeWidth": 4},
         "encoding": {"x": {"field": "x", "type": "quantitative", "title": "x7new"}, "y": {"field": "y", "type": "quantitative", "title": "Pearson residu"}}}
      ]
    },
    {
      "width": 213, "height": 57,
      "layer": [
        {"data": {"name": "pts"}, "transform": [{"filter": "datum.p == 8"}],
         "mark": {"type": "point", "shape": "circle", "filled": false, "color": "black", "size": 60, "strokeWidth": 1.5, "opacity": 1},
         "encoding": {
           "x": {"field": "x", "type": "quantitative", "scale": {"domain": [-1.73, 3.38], "nice": false, "zero": false}, "axis": {"values": [-1, 0, 1, 2, 3], "title": "x8new", "titleY": 83}},
           "y": {"field": "y", "type": "quantitative", "scale": {"domain": [-1.85e11, 3.25e11], "nice": false, "zero": false}, "axis": {"values": [-1e11, 0, 1e11, 2e11, 3e11], "title": "Pearson residu", "titleY": 101}}}},
        {"data": {"values": [{}]}, "mark": {"type": "rule", "color": "black", "strokeWidth": 3, "strokeDash": [12, 11]}, "encoding": {"y": {"datum": 0}}},
        {"data": {"name": "fit"}, "transform": [{"filter": "datum.p == 8"}],
         "mark": {"type": "line", "color": "#ff0000", "strokeWidth": 4},
         "encoding": {"x": {"field": "x", "type": "quantitative", "title": "x8new"}, "y": {"field": "y", "type": "quantitative", "title": "Pearson residu"}}}
      ]
    },
    {
      "width": 209, "height": 57,
      "view": {"stroke": null},
      "layer": [
        {"data": {"name": "pts"}, "transform": [{"filter": "datum.p == 9"}],
         "mark": {"type": "point", "shape": "circle", "filled": false, "color": "black", "size": 60, "strokeWidth": 1.5, "opacity": 1},
         "encoding": {
           "x": {"field": "x", "type": "quantitative", "scale": {"domain": [-1.5, 3.62], "nice": false, "zero": false}, "axis": {"values": [-1, 0, 1, 2, 3], "title": "x9new", "titleY": 83, "domain": true}},
           "y": {"field": "y", "type": "quantitative", "scale": {"domain": [-1.85e11, 3.25e11], "nice": false, "zero": false}, "axis": {"values": [-1e11, 0, 1e11, 2e11, 3e11], "title": "Pearson residu", "titleY": 101, "domain": true}}}},
        {"data": {"values": [{}]}, "mark": {"type": "rule", "color": "black", "strokeWidth": 3, "strokeDash": [12, 11]}, "encoding": {"y": {"datum": 0}}},
        {"data": {"values": [{}]}, "mark": {"type": "rule", "color": "black", "strokeWidth": 2}, "encoding": {"y": {"datum": 3.25e11}}},
        {"data": {"name": "fit"}, "transform": [{"filter": "datum.p == 9"}],
         "mark": {"type": "line", "color": "#ff0000", "strokeWidth": 4},
         "encoding": {"x": {"field": "x", "type": "quantitative", "title": "x9new"}, "y": {"field": "y", "type": "quantitative", "title": "Pearson residu"}}}
      ]
    }
  ],
  "config": {
    "font": "Liberation Sans",
    "view": {"stroke": "black", "strokeWidth": 2},
    "axis": {
      "labelFont": "Liberation Sans", "titleFont": "Liberation Sans",
      "labelFontSize": 19, "titleFontSize": 19, "titleFontWeight": "normal",
      "labelColor": "#111111", "titleColor": "#111111",
      "tickColor": "black", "tickWidth": 1.5, "tickSize": 10, "tickCount": 50,
      "gridColor": "#d9d9d9", "gridWidth": 1.5,
      "domain": false, "domainColor": "black", "domainWidth": 2,
      "labelFlush": false, "labelOverlap": false
    },
    "axisX": {
      "labelPadding": 13, "labelExpr": "'' + datum.value",
      "titleY": 84, "titleBaseline": "alphabetic"
    },
    "axisY": {
      "labelAngle": 270, "labelAlign": "center", "labelBaseline": "middle", "labelPadding": 22,
      "labelExpr": "datum.value == -1e11 ? '-1e+11' : ''",
      "titleAngle": 270, "titleAlign": "left", "titleBaseline": "middle", "titleX": -72
    }
  }
}
